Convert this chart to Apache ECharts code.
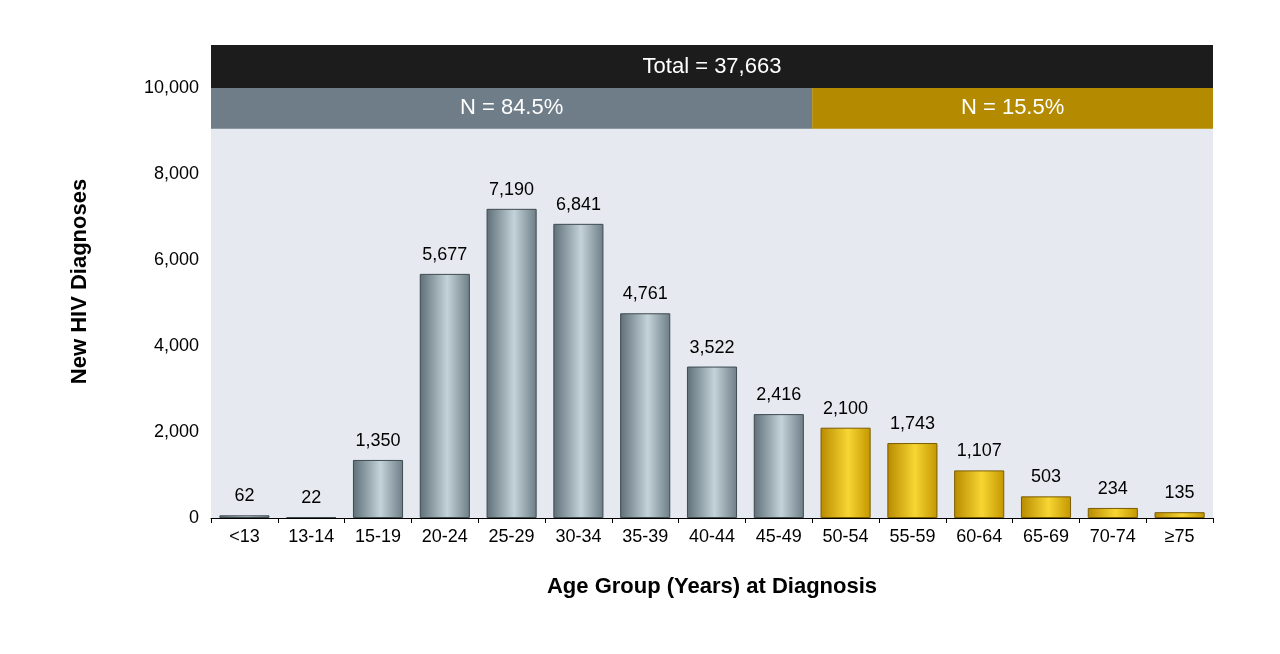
<!DOCTYPE html>
<html><head><meta charset="utf-8">
<script src="https://cdn.jsdelivr.net/npm/echarts@6/dist/echarts.min.js"></script>
<style>html,body{margin:0;padding:0;background:#fff}#c{width:1280px;height:654px}</style>
</head><body><div id="c"></div>
<script>
const categories = ['<13','13-14','15-19','20-24','25-29','30-34','35-39','40-44','45-49','50-54','55-59','60-64','65-69','70-74','≥75'];
const values = [62,22,1350,5677,7190,6841,4761,3522,2416,2100,1743,1107,503,234,135];
const olderStartIndex = 9;
const totalLabel = 'Total = 37,663';
const youngLabel = 'N = 84.5%';
const oldLabel = 'N = 15.5%';

const grayGrad = {type:'linear',x:0,y:0,x2:1,y2:0,colorStops:[{offset:0,color:'#5f6f78'},{offset:0.55,color:'#c4d3d9'},{offset:1,color:'#6d7d86'}]};
const goldGrad = {type:'linear',x:0,y:0,x2:1,y2:0,colorStops:[{offset:0,color:'#b88a00'},{offset:0.55,color:'#f7d633'},{offset:1,color:'#c39600'}]};

const chart = echarts.init(document.getElementById('c'));
chart.setOption({
  animation:false,
  grid:{left:211,right:67,top:45,bottom:136,show:true,backgroundColor:'#e6e9f0',borderWidth:0},
  xAxis:{type:'category',data:categories,
    axisLine:{lineStyle:{color:'#000'}},axisTick:{show:true,lineStyle:{color:'#000'}},
    axisLabel:{color:'#000',fontSize:18,fontFamily:'Liberation Sans, Arial',margin:10},
    name:'Age Group (Years) at Diagnosis',nameLocation:'middle',nameGap:58,
    nameTextStyle:{fontSize:22,fontWeight:'bold',color:'#000',fontFamily:'Liberation Sans, Arial'}},
  yAxis:{type:'value',min:0,max:11000,interval:2000,
    axisLine:{show:false},axisTick:{show:false},splitLine:{show:false},
    axisLabel:{color:'#000',fontSize:18,fontFamily:'Liberation Sans, Arial',margin:12,
      formatter:v=>v>10000?'':v.toLocaleString('en-US')},
    name:'New HIV Diagnoses',nameLocation:'middle',nameGap:120,
    nameTextStyle:{fontSize:22,fontWeight:'bold',color:'#000',fontFamily:'Liberation Sans, Arial'}},
  series:[{
    type:'bar',barCategoryGap:'25%',
    data:values.map((v,i)=>({value:v,itemStyle:{color:i>=olderStartIndex?goldGrad:grayGrad,
      borderColor:i>=olderStartIndex?'#7a5c00':'#3e4a50',borderWidth:1}})),
    label:{show:true,position:'top',distance:10,color:'#000',fontSize:18,fontFamily:'Liberation Sans, Arial',
      formatter:p=>p.value.toLocaleString('en-US')},
    markArea:{silent:true,data:[
      [{xAxis:categories[0],yAxis:10000,itemStyle:{color:'#1c1c1c'},
        label:{show:true,position:'inside',formatter:totalLabel,color:'#fff',fontSize:22,fontFamily:'Liberation Sans, Arial'}},
       {xAxis:categories[categories.length-1],yAxis:11000}],
      [{xAxis:categories[0],yAxis:9050,itemStyle:{color:'#6e7d88'},
        label:{show:true,position:'inside',formatter:youngLabel,color:'#fff',fontSize:22,fontFamily:'Liberation Sans, Arial'}},
       {xAxis:categories[olderStartIndex-1],yAxis:10000}],
      [{xAxis:categories[olderStartIndex],yAxis:9050,itemStyle:{color:'#b38a00'},
        label:{show:true,position:'inside',formatter:oldLabel,color:'#fff',fontSize:22,fontFamily:'Liberation Sans, Arial'}},
       {xAxis:categories[categories.length-1],yAxis:10000}]
    ]}
  }]
});
</script></body></html>
